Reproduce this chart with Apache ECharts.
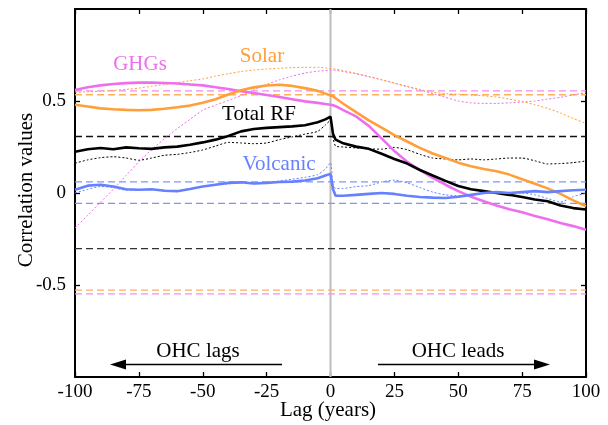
<!DOCTYPE html>
<html>
<head>
<meta charset="utf-8">
<script src="https://cdn.jsdelivr.net/npm/echarts@6/dist/echarts.min.js"></script>
<style>html,body{margin:0;padding:0;background:#fff;}#c{width:608px;height:425px;}</style>
</head>
<body>
<div id="c"></div>
<script>
// ---- data ----
const lags = [-100,-95,-90,-85,-80,-75,-70,-65,-60,-55,-50,-45,-40,-35,-30,-25,-20,-15,-10,-5,-2,0,1,2,5,10,15,20,25,30,35,40,45,50,55,60,65,70,75,80,85,90,95,100];
const ghgSolid = [0.56,0.575,0.585,0.592,0.597,0.6,0.6,0.598,0.595,0.59,0.585,0.575,0.565,0.553,0.543,0.533,0.522,0.51,0.498,0.49,0.484,0.48,0.477,0.472,0.45,0.416,0.365,0.297,0.228,0.17,0.125,0.082,0.045,0.01,-0.02,-0.045,-0.068,-0.088,-0.105,-0.125,-0.143,-0.163,-0.18,-0.2];
const ghgDot = [-0.19,-0.12,-0.05,0.02,0.095,0.17,0.235,0.295,0.35,0.4,0.45,0.478,0.503,0.53,0.56,0.59,0.615,0.635,0.652,0.662,0.665,0.668,0.668,0.667,0.66,0.648,0.632,0.615,0.597,0.578,0.56,0.54,0.52,0.5,0.49,0.487,0.487,0.49,0.494,0.5,0.51,0.52,0.533,0.545];
const solarSolid = [0.48,0.47,0.46,0.455,0.452,0.45,0.452,0.458,0.466,0.475,0.49,0.51,0.535,0.558,0.574,0.584,0.588,0.582,0.57,0.555,0.54,0.53,0.525,0.515,0.485,0.44,0.395,0.355,0.315,0.28,0.245,0.215,0.19,0.165,0.145,0.13,0.118,0.1,0.075,0.05,0.025,-0.005,-0.04,-0.072];
const solarDot = [0.548,0.55,0.553,0.558,0.563,0.57,0.58,0.59,0.6,0.61,0.62,0.635,0.648,0.66,0.668,0.674,0.678,0.681,0.683,0.683,0.68,0.676,0.675,0.673,0.665,0.65,0.634,0.616,0.598,0.58,0.563,0.548,0.54,0.537,0.533,0.528,0.522,0.51,0.497,0.48,0.46,0.435,0.405,0.378];
const totalSolid = [0.224,0.238,0.245,0.238,0.248,0.243,0.24,0.248,0.252,0.262,0.275,0.29,0.31,0.335,0.348,0.354,0.358,0.362,0.368,0.385,0.4,0.415,0.32,0.29,0.27,0.252,0.24,0.213,0.185,0.16,0.125,0.095,0.066,0.038,0.02,0.01,0.0,-0.01,-0.022,-0.035,-0.045,-0.068,-0.082,-0.09];
const totalDot = [0.162,0.18,0.192,0.197,0.19,0.178,0.19,0.205,0.21,0.22,0.234,0.255,0.275,0.272,0.268,0.272,0.29,0.305,0.32,0.335,0.37,0.395,0.3,0.255,0.25,0.245,0.24,0.238,0.248,0.235,0.21,0.19,0.185,0.18,0.185,0.18,0.185,0.19,0.19,0.175,0.158,0.16,0.165,0.174];
const volcSolid = [0.018,0.04,0.045,0.035,0.02,0.018,0.02,0.012,0.01,0.022,0.035,0.045,0.055,0.058,0.052,0.055,0.06,0.062,0.068,0.08,0.095,0.104,0.02,-0.015,-0.015,-0.01,-0.005,0.0,-0.005,-0.015,-0.022,-0.025,-0.027,-0.02,-0.01,0.0,0.005,0.0,0.005,0.01,0.005,0.01,0.015,0.018];
const volcDot = [0.0,0.02,0.035,0.03,0.015,0.015,0.02,0.015,0.01,0.02,0.035,0.045,0.05,0.055,0.05,0.055,0.065,0.075,0.085,0.1,0.13,0.165,0.04,0.025,0.025,0.035,0.04,0.06,0.07,0.055,0.03,0.005,-0.01,-0.015,-0.01,0.0,0.0,0.0,0.0,-0.01,-0.03,-0.05,-0.02,0.0];
// significance levels (upper, lower)
const sigGHG = [0.555, -0.548];
const sigSolar = [0.534, -0.528];
const sigTotal = [0.307, -0.302];
const sigVolc = [0.06, -0.056];
const lagRange = [-100, 100];
const xTicks = [-100, -75, -50, -25, 0, 25, 50, 75, 100];
const yTicks = [-0.5, 0, 0.5];

// ---- styles ----
const C_GHG = '#ee6fee', C_SOL = '#ff9f3a', C_TOT = '#000000', C_VOL = '#6680ff';
const FONT = 'Liberation Serif';

function pairs(ys) { return lags.map((x, i) => [x, ys[i]]); }
function hline(v, color, z) {
  return { type: 'line', data: [[lagRange[0], v], [lagRange[1], v]], symbol: 'none', silent: true, z: z || 2,
    lineStyle: { color: color, width: 1.3, type: [7, 4] } };
}
function solid(ys, color) {
  return { type: 'line', data: pairs(ys), symbol: 'none', z: 5, lineStyle: { color: color, width: 2.6 } };
}
function dotted(ys, color) {
  return { type: 'line', data: pairs(ys), symbol: 'none', z: 4, smooth: 0.2, lineStyle: { color: color, width: 1, type: [2, 2] } };
}

const series = [
  { type: 'line', data: [[0, -1], [0, 1]], symbol: 'none', z: 1, lineStyle: { color: '#bdbdbd', width: 2 } },
  hline(sigGHG[0], '#f08ef0'), hline(sigGHG[1], '#f08ef0'),
  hline(sigSolar[0], '#ffae5c'), hline(sigSolar[1], '#ffae5c'),
  hline(sigTotal[0], '#111'), hline(sigTotal[1], '#333'),
  hline(sigVolc[0], '#7d95ff'), hline(sigVolc[1], '#7d95ff'),
  dotted(ghgDot, C_GHG), dotted(solarDot, C_SOL), dotted(totalDot, C_TOT), dotted(volcDot, C_VOL),
  solid(ghgSolid, C_GHG), solid(solarSolid, C_SOL), solid(totalSolid, C_TOT), solid(volcSolid, C_VOL)
];

const axisCommon = {
  type: 'value', splitLine: { show: false },
  axisLine: { show: true, onZero: false, lineStyle: { color: '#000', width: 2 } },
  axisTick: { show: true, inside: true, length: 5, lineStyle: { color: '#000', width: 1.3 } }
};

const chart = echarts.init(document.getElementById('c'), null, { renderer: 'canvas' });
chart.setOption({
  animation: false,
  backgroundColor: '#fff',
  grid: { left: 75, right: 22, top: 9, bottom: 48, containLabel: false },
  xAxis: [
    Object.assign({}, axisCommon, { position: 'bottom', min: lagRange[0], max: lagRange[1], interval: 25,
      axisLabel: { show: true, margin: 6, color: '#000', fontFamily: FONT, fontSize: 19 } }),
    Object.assign({}, axisCommon, { position: 'top', min: lagRange[0], max: lagRange[1], interval: 25,
      axisLabel: { show: false } })
  ],
  yAxis: [
    Object.assign({}, axisCommon, { position: 'left', min: -1, max: 1,
      axisTick: Object.assign({}, axisCommon.axisTick, { customValues: yTicks }),
      axisLabel: { show: true, customValues: yTicks, margin: 9, color: '#000', fontFamily: FONT, fontSize: 19 } }),
    Object.assign({}, axisCommon, { position: 'right', min: -1, max: 1,
      axisTick: Object.assign({}, axisCommon.axisTick, { customValues: yTicks }),
      axisLabel: { show: false } })
  ],
  series: series,
  graphic: [
    { type: 'text', x: 140, y: 64, style: { text: 'GHGs', fill: C_GHG, font: '21px "Liberation Serif"', align: 'center', verticalAlign: 'middle' } },
    { type: 'text', x: 262, y: 56, style: { text: 'Solar', fill: C_SOL, font: '21px "Liberation Serif"', align: 'center', verticalAlign: 'middle' } },
    { type: 'text', x: 259, y: 114, style: { text: 'Total RF', fill: '#000', font: '21px "Liberation Serif"', align: 'center', verticalAlign: 'middle' } },
    { type: 'text', x: 279, y: 164, style: { text: 'Volcanic', fill: C_VOL, font: '21px "Liberation Serif"', align: 'center', verticalAlign: 'middle' } },
    { type: 'text', x: 198, y: 351, style: { text: 'OHC lags', fill: '#000', font: '21px "Liberation Serif"', align: 'center', verticalAlign: 'middle' } },
    { type: 'text', x: 458, y: 351, style: { text: 'OHC leads', fill: '#000', font: '21px "Liberation Serif"', align: 'center', verticalAlign: 'middle' } },
    { type: 'line', shape: { x1: 282, y1: 364.5, x2: 122, y2: 364.5 }, style: { stroke: '#000', lineWidth: 1.6 } },
    { type: 'polygon', shape: { points: [[110, 364.5], [126, 359.5], [126, 369.5]] }, style: { fill: '#000' } },
    { type: 'line', shape: { x1: 378, y1: 364.5, x2: 538, y2: 364.5 }, style: { stroke: '#000', lineWidth: 1.6 } },
    { type: 'polygon', shape: { points: [[550, 364.5], [534, 359.5], [534, 369.5]] }, style: { fill: '#000' } },
    { type: 'text', x: 328, y: 410, style: { text: 'Lag (years)', fill: '#000', font: '21px "Liberation Serif"', align: 'center', verticalAlign: 'middle' } },
    { type: 'text', x: 26, y: 190, rotation: Math.PI / 2, style: { text: 'Correlation values', fill: '#000', font: '21px "Liberation Serif"', align: 'center', verticalAlign: 'middle' } }
  ]
});
</script>
</body>
</html>
